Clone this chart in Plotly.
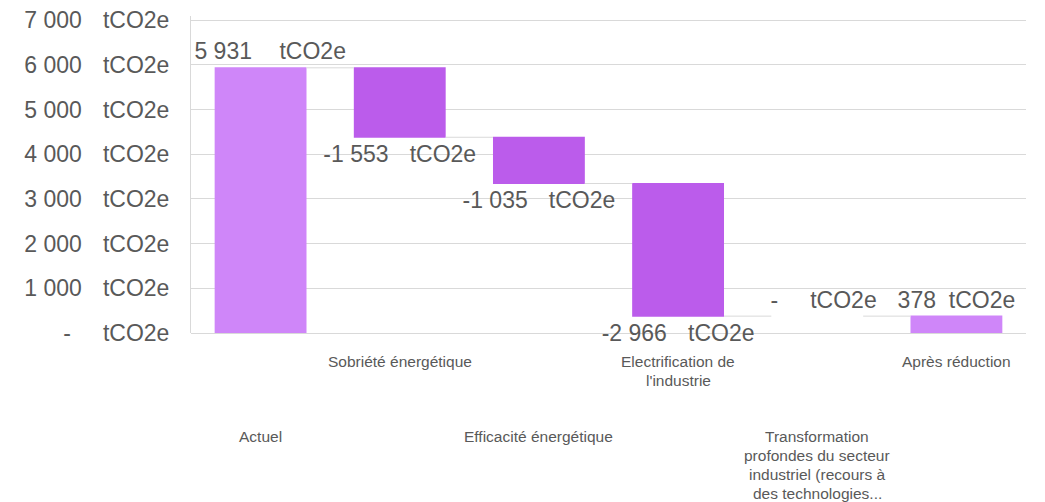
import plotly.graph_objects as go

# Waterfall: emissions pathway (tCO2e)
categories = [
    "Actuel",
    "Sobriété énergétique",
    "Efficacité énergétique",
    "Electrification de l'industrie",
    "Transformation profondes du secteur industriel (recours à des technologies...",
    "Après réduction",
]
category_labels = [
    "Actuel",
    "Sobriété énergétique",
    "Efficacité énergétique",
    "Electrification de<br>l'industrie",
    "Transformation<br>profondes du secteur<br>industriel (recours à<br>des technologies...",
    "Après réduction",
]
label_rows = [1, 0, 1, 0, 1, 0]  # staggered category labels
measures = ["absolute", "relative", "relative", "relative", "relative", "absolute"]
values = [5931, -1553, -1035, -2966, 0, 378]
y_ticks = [0, 1000, 2000, 3000, 4000, 5000, 6000, 7000]

NB = "\u00a0"
HAIR = "\u200a"
UNIT = "tCO2e"
TEXT = "#595959"
LIGHT = "#CF86F9"
DARK = "#BB5CEB"
GRID = "#D9D9D9"
FONT = "Liberation Sans, Arial, sans-serif"


def fmt_num(v):
    return f"{v:,.0f}".replace(",", " ")


def value_label(v):
    # accounting-style label: number, padded gap, unit
    if v == 0:
        return NB * 2 + "-" + NB * 5 + UNIT
    if v >= 1000:
        return NB * 3 + fmt_num(v) + NB * 4 + HAIR + UNIT
    if v < 0:
        return fmt_num(v) + NB * 3 + HAIR + UNIT
    return fmt_num(v) + NB * 2 + UNIT


def tick_label(v):
    if v == 0:
        return "-" + NB * 5 + UNIT
    return fmt_num(v) + NB * 3 + HAIR + UNIT


fig = go.Figure(
    go.Waterfall(
        x=categories,
        y=values,
        measure=measures,
        text=[value_label(v) for v in values],
        textposition="outside",
        textfont=dict(family=FONT, size=23, color=TEXT),
        constraintext="none",
        cliponaxis=False,
        increasing=dict(marker=dict(color=LIGHT, line=dict(color="#E4B8FC", width=1.5))),
        decreasing=dict(marker=dict(color=DARK, line=dict(width=0))),
        totals=dict(marker=dict(color=LIGHT, line=dict(width=0))),
        connector=dict(mode="between", line=dict(color=GRID, width=1)),
        hoverinfo="skip",
    )
)

# category labels below the axis, one annotation per text line
LINE_H = 19
for cat, lab, row in zip(categories, category_labels, label_rows):
    base = -18 if row == 0 else -93
    for i, line in enumerate(lab.split("<br>")):
        fig.add_annotation(
            x=cat,
            xref="x",
            y=0,
            yref="paper",
            yanchor="top",
            xanchor="center",
            yshift=base - i * LINE_H,
            text=line,
            showarrow=False,
            align="center",
            font=dict(family=FONT, size=15.5, color=TEXT),
        )

fig.update_layout(
    width=1045,
    height=502,
    margin=dict(l=191, r=19, t=16, b=169, autoexpand=False),
    paper_bgcolor="white",
    plot_bgcolor="white",
    showlegend=False,
    waterfallgap=0.34,
    font=dict(family=FONT, color=TEXT),
    xaxis=dict(
        showticklabels=False,
        showgrid=False,
        zeroline=False,
        showline=False,
        ticks="",
    ),
    yaxis=dict(
        range=[0, 7090],
        tickvals=y_ticks,
        ticktext=[tick_label(v) for v in y_ticks],
        tickfont=dict(family=FONT, size=23, color=TEXT),
        showgrid=True,
        gridcolor=GRID,
        gridwidth=1,
        zeroline=True,
        zerolinecolor=GRID,
        zerolinewidth=1,
        showline=True,
        linecolor=GRID,
        linewidth=1,
        ticks="",
        ticklabelstandoff=16,
        automargin=False,
    ),
)

fig.write_html("out.html")
